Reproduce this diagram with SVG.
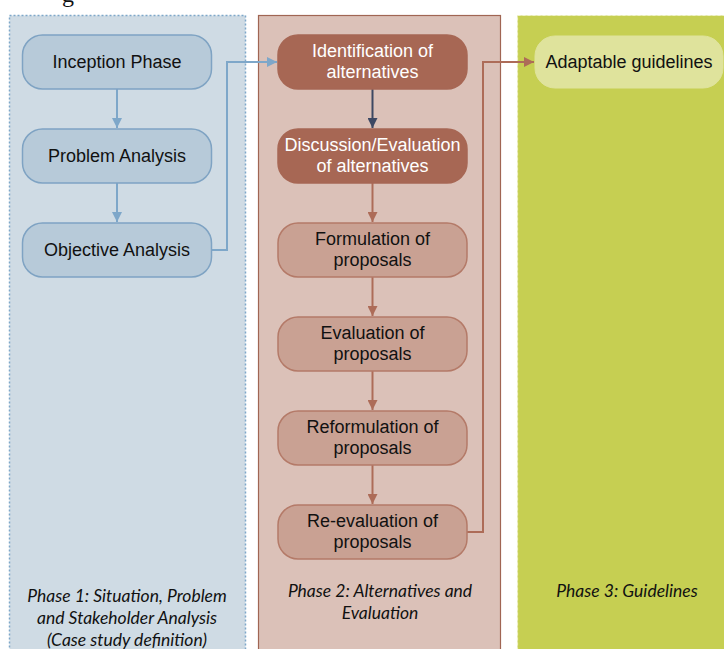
<svg xmlns="http://www.w3.org/2000/svg" width="724" height="649" viewBox="0 0 724 649">
  <style>
    .lbl { font-family: "Liberation Sans", Arial, sans-serif; font-size: 18px; text-anchor: middle; fill: #111; }
    .lbl.inv { fill: #ffffff; }
    .cap { font-family: Lato, "Open Sans", sans-serif; font-style: italic; font-size: 17.5px; text-anchor: middle; fill: #111; }
    .n1 { fill: #b7cad9; stroke: #7fa3c3; stroke-width: 1.5; }
    .n2d { fill: #a76754; stroke: #a76754; stroke-width: 1.5; }
    .n2 { fill: #c9a193; stroke: #b47a68; stroke-width: 1.5; }
    .n3 { fill: #dfe39c; stroke: #dfe39c; stroke-width: 1; }
    .c-blue { fill: none; stroke: #7ea7c9; stroke-width: 2; }
    .c-brown { fill: none; stroke: #ad6c58; stroke-width: 2; }
    .c-navy { fill: none; stroke: #3d4863; stroke-width: 2; }
  </style>
  <defs>
    <marker id="ah-blue" viewBox="0 0 10 10" refX="10" refY="5" markerWidth="10" markerHeight="10" markerUnits="userSpaceOnUse" orient="auto">
      <path d="M0,0 L10,5 L0,10 Z" fill="#7ea7c9"/>
    </marker>
    <marker id="ah-brown" viewBox="0 0 10 10" refX="10" refY="5" markerWidth="10" markerHeight="10" markerUnits="userSpaceOnUse" orient="auto">
      <path d="M0,0 L10,5 L0,10 Z" fill="#ad6c58"/>
    </marker>
    <marker id="ah-navy" viewBox="0 0 10 10" refX="10" refY="5" markerWidth="10" markerHeight="10" markerUnits="userSpaceOnUse" orient="auto">
      <path d="M0,0 L10,5 L0,10 Z" fill="#3d4863"/>
    </marker>
  </defs>

  <rect width="724" height="649" fill="#ffffff"/>
  <!-- clipped descender of the caption line above -->
  <text x="62" y="2" font-family="Liberation Serif, serif" font-size="24" fill="#111">g</text>

  <!-- phase panels -->
  <g id="phase1">
    <rect x="9.5" y="15.5" width="236" height="640" fill="#cfdbe4" stroke="#7ea7c9" stroke-width="1.5" stroke-dasharray="2,2"/>
    <text class="cap" x="127" y="602">Phase 1: Situation, Problem</text>
    <text class="cap" x="127" y="624">and Stakeholder Analysis</text>
    <text class="cap" x="127" y="646">(Case study definition)</text>
  </g>
  <g id="phase2">
    <rect x="258.5" y="15.5" width="242" height="640" fill="#dbc1b8" stroke="#a06553" stroke-width="1.2"/>
    <text class="cap" x="380" y="597">Phase 2: Alternatives and</text>
    <text class="cap" x="380" y="619">Evaluation</text>
  </g>
  <g id="phase3">
    <rect x="517.5" y="15.5" width="220" height="640" fill="#c6cf52" stroke="#f0f2c8" stroke-width="1.2" stroke-dasharray="3,2"/>
    <text class="cap" x="627" y="597">Phase 3: Guidelines</text>
  </g>

  <!-- connectors -->
  <g id="connectors">
    <path class="c-blue" d="M117,89 V128" marker-end="url(#ah-blue)"/>
    <path class="c-blue" d="M117,183 V222" marker-end="url(#ah-blue)"/>
    <path class="c-blue" d="M212,250 H227 V62 H277" marker-end="url(#ah-blue)"/>
    <path class="c-navy" d="M372.5,89 V128" marker-end="url(#ah-navy)"/>
    <path class="c-brown" d="M372.5,183 V222" marker-end="url(#ah-brown)"/>
    <path class="c-brown" d="M372.5,277 V316" marker-end="url(#ah-brown)"/>
    <path class="c-brown" d="M372.5,371 V410" marker-end="url(#ah-brown)"/>
    <path class="c-brown" d="M372.5,465 V504" marker-end="url(#ah-brown)"/>
    <path class="c-brown" d="M467,532 H483 V62 H534" marker-end="url(#ah-brown)"/>
  </g>

  <!-- phase 1 nodes -->
  <g id="inception">
    <rect class="n1" x="22.5" y="35" width="189" height="54" rx="20"/>
    <text class="lbl" x="117" y="68">Inception Phase</text>
  </g>
  <g id="problem">
    <rect class="n1" x="22.5" y="129" width="189" height="54" rx="20"/>
    <text class="lbl" x="117" y="162">Problem Analysis</text>
  </g>
  <g id="objective">
    <rect class="n1" x="22.5" y="223" width="189" height="54" rx="20"/>
    <text class="lbl" x="117" y="256">Objective Analysis</text>
  </g>

  <!-- phase 2 nodes -->
  <g id="identification">
    <rect class="n2d" x="278" y="35" width="189" height="54" rx="20"/>
    <text class="lbl inv" x="372.5" y="57">Identification of</text>
    <text class="lbl inv" x="372.5" y="78">alternatives</text>
  </g>
  <g id="discussion">
    <rect class="n2d" x="278" y="129" width="189" height="54" rx="20"/>
    <text class="lbl inv" x="372.5" y="151">Discussion/Evaluation</text>
    <text class="lbl inv" x="372.5" y="172">of alternatives</text>
  </g>
  <g id="formulation">
    <rect class="n2" x="278" y="223" width="189" height="54" rx="20"/>
    <text class="lbl" x="372.5" y="245">Formulation of</text>
    <text class="lbl" x="372.5" y="266">proposals</text>
  </g>
  <g id="evaluation">
    <rect class="n2" x="278" y="317" width="189" height="54" rx="20"/>
    <text class="lbl" x="372.5" y="339">Evaluation of</text>
    <text class="lbl" x="372.5" y="360">proposals</text>
  </g>
  <g id="reformulation">
    <rect class="n2" x="278" y="411" width="189" height="54" rx="20"/>
    <text class="lbl" x="372.5" y="433">Reformulation of</text>
    <text class="lbl" x="372.5" y="454">proposals</text>
  </g>
  <g id="reevaluation">
    <rect class="n2" x="278" y="505" width="189" height="54" rx="20"/>
    <text class="lbl" x="372.5" y="527">Re-evaluation of</text>
    <text class="lbl" x="372.5" y="548">proposals</text>
  </g>

  <!-- phase 3 node -->
  <g id="guidelines">
    <rect class="n3" x="535" y="36" width="188" height="52" rx="20"/>
    <text class="lbl" x="629" y="68">Adaptable guidelines</text>
  </g>
</svg>
